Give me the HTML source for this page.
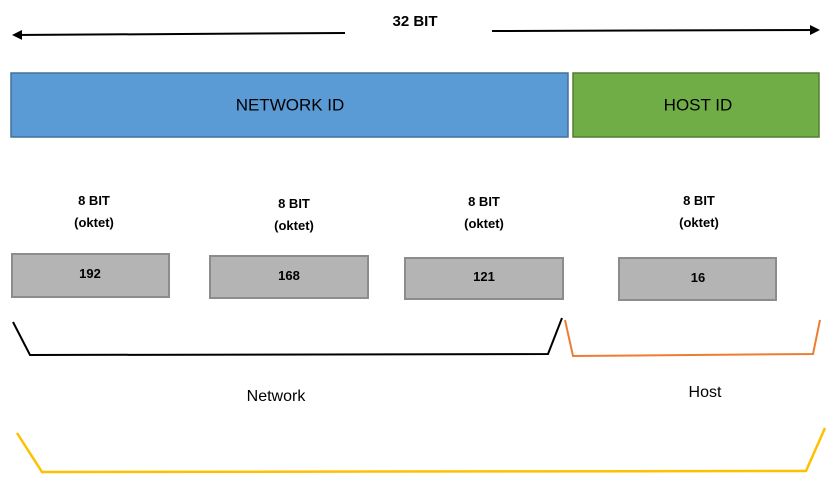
<!DOCTYPE html>
<html><head><style>
body{margin:0;background:#fff;width:835px;height:500px;overflow:hidden;font-family:"Liberation Sans",sans-serif;}
svg{display:block}
</style></head><body>
<svg width="835" height="500" xmlns="http://www.w3.org/2000/svg">
<defs><marker id="ah" markerWidth="10" markerHeight="10" refX="8" refY="5" orient="auto" markerUnits="userSpaceOnUse"><path d="M0,0 L10,5 L0,10 z" fill="#000"/></marker></defs>
<line x1="345" y1="33" x2="14" y2="35" stroke="#000" stroke-width="2" marker-end="url(#ah)"/>
<line x1="492" y1="31" x2="818" y2="30" stroke="#000" stroke-width="2" marker-end="url(#ah)"/>
<text x="415" y="26" font-size="15" font-weight="bold" text-anchor="middle">32 BIT</text>
<rect x="11" y="73" width="557" height="64" fill="#5b9bd5" stroke="#41719c" stroke-width="1.5"/>
<rect x="573" y="73" width="246" height="64" fill="#70ad47" stroke="#507e32" stroke-width="1.5"/>
<text x="290" y="106" font-size="17" text-anchor="middle" dominant-baseline="middle">NETWORK ID</text>
<text x="698" y="106" font-size="17" text-anchor="middle" dominant-baseline="middle">HOST ID</text>
<g font-size="13" font-weight="bold" text-anchor="middle">
<text x="94" y="205">8 BIT</text><text x="94" y="227">(oktet)</text>
<text x="294" y="208">8 BIT</text><text x="294" y="230">(oktet)</text>
<text x="484" y="206">8 BIT</text><text x="484" y="228">(oktet)</text>
<text x="699" y="205">8 BIT</text><text x="699" y="227">(oktet)</text>
</g>
<g fill="#b4b4b4" stroke="#8c8c8c" stroke-width="2">
<rect x="12" y="254" width="157" height="43"/>
<rect x="210" y="256" width="158" height="42"/>
<rect x="405" y="258" width="158" height="41"/>
<rect x="619" y="258" width="157" height="42"/>
</g>
<g font-size="13" font-weight="bold" text-anchor="middle">
<text x="90" y="278">192</text><text x="289" y="280">168</text><text x="484" y="281">121</text><text x="698" y="282">16</text>
</g>
<polyline points="13,322 30,355 548,354 562,318" fill="none" stroke="#000" stroke-width="2"/>
<polyline points="565,320 573,356 813,354 820,320" fill="none" stroke="#ed7d31" stroke-width="2"/>
<polyline points="17,433 42,472 806,471 825,428" fill="none" stroke="#ffc000" stroke-width="2.5"/>
<text x="276" y="401" font-size="16" text-anchor="middle">Network</text>
<text x="705" y="397" font-size="16" text-anchor="middle">Host</text>
</svg>
</body></html>
